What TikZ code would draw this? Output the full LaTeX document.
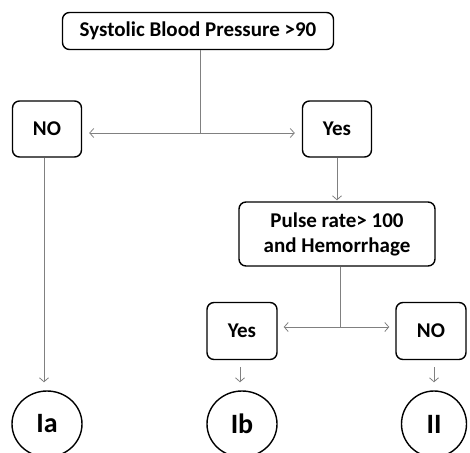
\documentclass[tikz,border=0pt]{standalone}
\usepackage{fontspec}
\setmainfont{Carlito}
\usetikzlibrary{arrows.meta,shapes.geometric}
\tikzset{
    step-box/.style = {draw=black, fill=white, line width=1.4pt, rectangle, rounded corners=7pt, font=\bfseries\fontsize{21}{25}\selectfont, align=center, inner sep=2pt},
    class-oval/.style = {draw=black, fill=white, line width=1.4pt, ellipse, inner sep=0pt, font=\bfseries\fontsize{28}{30}\selectfont},
    link/.style = {draw=gray, line width=0.8pt},
    link-arrow/.style = {link, -{Straight Barb[length=4pt,width=9pt]}},
}

\begin{document}
\begin{tikzpicture}[x=1pt, y=-1pt]
\useasboundingbox (0,0) rectangle (470,452);
% decision boxes
\node [step-box, minimum width=271pt, minimum height=37pt] (sbp) at (198,31) {Systolic Blood Pressure >90};
\node [step-box, minimum width=69pt, minimum height=56pt] (no-a) at (47,129) {NO};
\node [step-box, minimum width=69pt, minimum height=56pt] (yes-a) at (337,129) {Yes};
\node [step-box, minimum width=196pt, minimum height=64pt] (pulse) at (337,234) {Pulse rate> 100\\and Hemorrhage};
\node [step-box, minimum width=70pt, minimum height=57pt] (yes-b) at (242,331) {Yes};
\node [step-box, minimum width=70pt, minimum height=57pt] (no-b) at (431,331) {NO};
% classes
\node [class-oval, minimum width=70pt, minimum height=66pt] (ia) at (47,424) {Ia};
\node [class-oval, minimum width=70pt, minimum height=66pt] (ib) at (242,424) {Ib};
\node [class-oval, minimum width=65pt, minimum height=66pt] (ii) at (434,424) {II};
% junctions
\coordinate (split-a) at (200,133);
\coordinate (split-b) at (340,327);

\draw [link] (sbp.south -| split-a) -- (split-a);
\draw [link-arrow, shorten >=7pt] (split-a) -- (split-a -| no-a.east);
\draw [link-arrow, shorten >=7pt] (split-a) -- (split-a -| yes-a.west);
\draw [link-arrow, shorten >=1pt] (yes-a) -- (pulse);
\draw [link] (pulse.south -| split-b) -- (split-b);
\draw [link-arrow, shorten >=6pt] (split-b) -- (split-b -| yes-b.east);
\draw [link-arrow, shorten >=6pt] (split-b) -- (split-b -| no-b.west);
\draw [link-arrow, shorten >=8pt] ([xshift=-3pt]no-a.south) -- ([xshift=-3pt]no-a.south |- ia.north);
\draw [link-arrow, shorten <=7pt, shorten >=8pt] ([xshift=-2pt]yes-b.south) -- ([xshift=-2pt]yes-b.south |- ib.north);
\draw [link-arrow, shorten <=7pt, shorten >=8pt] ([xshift=3pt]no-b.south) -- ([xshift=3pt]no-b.south |- ii.north);
\end{tikzpicture}
\end{document}
